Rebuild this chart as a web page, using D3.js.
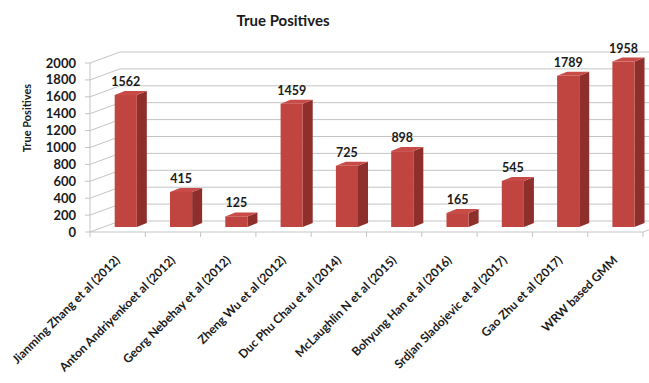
<!DOCTYPE html>
<html>
<head>
<meta charset="utf-8">
<script src="https://cdn.jsdelivr.net/npm/d3@7"></script>
<style>
  html, body { margin: 0; padding: 0; background: #fff; }
  svg { display: block; }
  text { font-family: Lato, "Open Sans", sans-serif; font-weight: bold; fill: #1a1a1a; }
</style>
</head>
<body>
<svg id="chart" width="649" height="383"></svg>
<script>
// Methods compared and their true-positive counts
const categories = [
  "Jianming Zhang et al (2012)",
  "Anton Andriyenkoet al (2012)",
  "Georg Nebehay et al (2012)",
  "Zheng Wu et al (2012)",
  "Duc Phu Chau et al (2014)",
  "McLaughlin N et al (2015)",
  "Bohyung Han et al (2016)",
  "Srdjan Sladojevic et al (2017)",
  "Gao Zhu et al (2017)",
  "WRW based GMM"
];
const truePositives = [1562, 415, 125, 1459, 725, 898, 165, 545, 1789, 1958];
const yTicks = [0, 200, 400, 600, 800, 1000, 1200, 1400, 1600, 1800, 2000];

const svg = d3.select("#chart");

// 3-D box geometry: front floor edge, wall depth and bar depth
const floorY = 232, topY = 63;
const depthX = 30, depthY = -11;          // front -> back wall
const barShift = 5 / 11;                  // bars stand part way into the box
const barDX = 10, barDY = -4;             // thickness of each column

const x = d3.scaleBand().domain(categories).range([90, 643]).paddingInner(0).paddingOuter(0);
const y = d3.scaleLinear().domain([0, 2000]).range([floorY, topY]);

const bw = x.bandwidth() * 0.4;
const bx = c => x(c) + x.bandwidth() * 0.2 + depthX * barShift;
const baseY = floorY + depthY * barShift;

// Title
svg.append("text").attr("x", 283).attr("y", 26).attr("text-anchor", "middle")
  .style("font-size", "15px").text("True Positives");

// Side wall and back wall gridlines
const grid = svg.append("g").attr("stroke", "#c4c4c4").attr("fill", "none").attr("stroke-width", 1);
yTicks.forEach(v => {
  const yy = y(v);
  grid.append("line").attr("x1", 85).attr("y1", yy).attr("x2", 90).attr("y2", yy);
  grid.append("line").attr("x1", 90).attr("y1", yy).attr("x2", 90 + depthX).attr("y2", yy + depthY);
  grid.append("line").attr("x1", 90 + depthX).attr("y1", yy + depthY).attr("x2", 649).attr("y2", yy + depthY);
});
grid.append("line").attr("x1", 90).attr("y1", y(0)).attr("x2", 90).attr("y2", y(2000));

// Floor front edge with category ticks
grid.append("line").attr("x1", 90).attr("y1", floorY).attr("x2", 643).attr("y2", floorY);
grid.append("line").attr("x1", 643).attr("y1", floorY).attr("x2", 643 + depthX).attr("y2", floorY + depthY);
categories.concat([null]).forEach(c => {
  const xx = c === null ? 643 : x(c);
  grid.append("line").attr("x1", xx).attr("y1", floorY).attr("x2", xx).attr("y2", floorY + 5);
});

// Y tick labels
svg.append("g").selectAll("text").data(yTicks).join("text")
  .attr("x", 76).attr("y", d => y(d)).attr("dy", "0.35em")
  .attr("text-anchor", "end").style("font-size", "13px").text(d => d);

// Y axis title
svg.append("text").attr("transform", "translate(31,118) rotate(-90)")
  .attr("text-anchor", "middle").style("font-size", "11px").text("True Positives");

// Columns
const bars = svg.append("g").selectAll("g").data(categories).join("g");
bars.each(function (c, i) {
  const g = d3.select(this);
  const x0 = bx(c), x1 = x0 + bw;
  const h = y(0) - y(truePositives[i]);
  const yt = baseY - h;
  // side
  g.append("path").attr("fill", "#8e2f2c")
    .attr("d", `M${x1},${yt}L${x1 + barDX},${yt + barDY}L${x1 + barDX},${baseY + barDY}L${x1},${baseY}Z`);
  // top
  g.append("path").attr("fill", "#c94b47")
    .attr("d", `M${x0},${yt}L${x0 + barDX},${yt + barDY}L${x1 + barDX},${yt + barDY}L${x1},${yt}Z`);
  // front
  g.append("rect").attr("x", x0).attr("y", yt).attr("width", bw).attr("height", h).attr("fill", "#c0443f");
  // value label
  g.append("text").attr("x", x0 + bw / 2).attr("y", yt + barDY - 5)
    .attr("text-anchor", "middle").style("font-size", "12.5px").text(truePositives[i]);
});

// Category labels, rotated
svg.append("g").selectAll("text").data(categories).join("text")
  .attr("transform", d => `translate(${x(d) + x.bandwidth() / 2 + 3},${floorY + 29}) rotate(-45)`)
  .attr("text-anchor", "end").style("font-size", "12px").text(d => d);
</script>
</body>
</html>
